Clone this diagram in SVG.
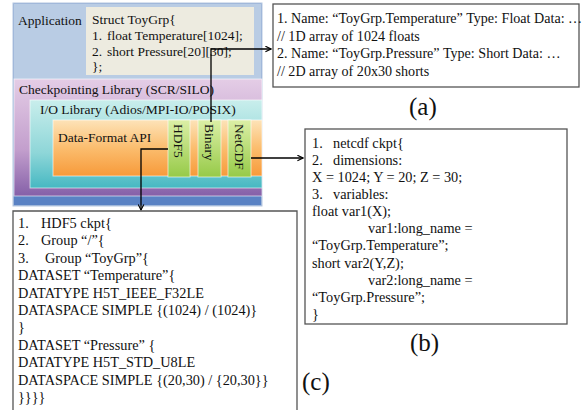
<svg xmlns="http://www.w3.org/2000/svg" width="582" height="410" viewBox="0 0 582 410">
  <defs>
    <linearGradient id="gPurple" x1="0" y1="0" x2="0" y2="1">
      <stop offset="0" stop-color="#e4cde6"/>
      <stop offset="0.6" stop-color="#c39fcd"/>
      <stop offset="1" stop-color="#8560a8"/>
    </linearGradient>
    <linearGradient id="gTeal" x1="0" y1="0" x2="0" y2="1">
      <stop offset="0" stop-color="#c9eeec"/>
      <stop offset="0.6" stop-color="#8ed6d8"/>
      <stop offset="1" stop-color="#46b8c2"/>
    </linearGradient>
    <linearGradient id="gOrange" x1="0" y1="0" x2="0" y2="1">
      <stop offset="0" stop-color="#fde3b8"/>
      <stop offset="0.5" stop-color="#fbbd6e"/>
      <stop offset="1" stop-color="#f79a3a"/>
    </linearGradient>
    <linearGradient id="gGreen" x1="0" y1="0" x2="0" y2="1">
      <stop offset="0" stop-color="#dcefa6"/>
      <stop offset="1" stop-color="#96ca48"/>
    </linearGradient>
    <marker id="arrow" viewBox="0 0 10 10" refX="9" refY="5" markerWidth="7" markerHeight="7" orient="auto" markerUnits="userSpaceOnUse">
      <path d="M1,1 L9,5 L1,9" fill="none" stroke="#000" stroke-width="1.6"/>
    </marker>
  </defs>
  <style>
    text { font-family: "Liberation Serif", "Times New Roman", serif; fill: #111; }
    .t13 { font-size: 13.5px; }
    .t14 { font-size: 14.3px; }
    .ta { font-size: 14.1px; }
    .lbl { font-size: 25px; }
    .box { fill: #fff; stroke: #555; stroke-width: 1.3; }
    .conn { fill: none; stroke: #000; stroke-width: 1.3; }
    .edge { stroke: #ffffff; stroke-opacity: 0.6; stroke-width: 1; }
  </style>

  <!-- software stack -->
  <g id="stack">
    <rect x="13" y="3" width="249" height="203" fill="#8eaad4" stroke="#b4c6e0" stroke-width="1"/>
    <rect x="14" y="4" width="247" height="75" fill="#b9cce4"/>
    <rect x="14" y="196" width="247" height="9" fill="#5a82c4"/>
  </g>
  <g id="application">
    <text class="t13" x="18" y="25">Application</text>
    <rect x="86" y="7" width="168" height="68" fill="#edebe0"/>
    <text class="t13" x="92" y="24">Struct ToyGrp{</text>
    <text class="t13" x="92" y="40">1.</text>
    <text class="t13" x="107" y="40">float Temperature[1024];</text>
    <text class="t13" x="92" y="56">2.</text>
    <text class="t13" x="107" y="56">short Pressure[20][30];</text>
    <text class="t13" x="92" y="71">};</text>
  </g>
  <g id="checkpointing">
    <rect x="14" y="79" width="248" height="117" fill="url(#gPurple)" class="edge"/>
    <text class="t13" x="19" y="94">Checkpointing Library (SCR/SILO)</text>
  </g>
  <g id="io-library">
    <rect x="30" y="100" width="232" height="88" fill="url(#gTeal)" class="edge"/>
    <text class="t13" x="40" y="114">I/O Library (Adios/MPI-IO/POSIX)</text>
  </g>
  <g id="data-format">
    <rect x="53" y="120" width="209" height="56" fill="url(#gOrange)" class="edge"/>
    <text class="t13" x="58" y="142">Data-Format API</text>
  </g>
  <g id="hdf5">
    <rect x="168" y="120" width="22" height="57" fill="url(#gGreen)" class="edge"/>
    <text class="t13" transform="translate(174,124) rotate(90)">HDF5</text>
  </g>
  <g id="binary">
    <rect x="198" y="120" width="23" height="57" fill="url(#gGreen)" class="edge"/>
    <text class="t13" transform="translate(205,124) rotate(90)">Binary</text>
  </g>
  <g id="netcdf">
    <rect x="228" y="120" width="23" height="57" fill="url(#gGreen)" class="edge"/>
    <text class="t13" transform="translate(235,124) rotate(90)">NetCDF</text>
  </g>

  <!-- connectors -->
  <g id="connectors">
    <path class="conn" d="M211,122 V49 H271" marker-end="url(#arrow)"/>
    <path class="conn" d="M168,149 H141 V210" marker-end="url(#arrow)"/>
    <path class="conn" d="M251,158 H303" marker-end="url(#arrow)"/>
  </g>

  <!-- (a) generic binary layout -->
  <g id="box-a">
    <rect class="box" x="273" y="4" width="306" height="83"/>
    <text class="ta" x="277" y="23">1. Name: “ToyGrp.Temperature” Type: Float Data: …</text>
    <text class="ta" x="277" y="41">// 1D array of 1024 floats</text>
    <text class="ta" x="277" y="58">2. Name: “ToyGrp.Pressure” Type: Short Data: …</text>
    <text class="ta" x="277" y="76">// 2D array of 20x30 shorts</text>
    <text class="lbl" x="409" y="115">(a)</text>
  </g>

  <!-- (b) NetCDF layout -->
  <g id="box-b">
    <rect class="box" x="305" y="129" width="262" height="195"/>
    <text class="t14" x="312" y="148">1.</text>
    <text class="t14" x="333" y="148">netcdf ckpt{</text>
    <text class="t14" x="312" y="165">2.</text>
    <text class="t14" x="333" y="165">dimensions:</text>
    <text class="t14" x="312" y="182">X = 1024; Y = 20; Z = 30;</text>
    <text class="t14" x="312" y="199">3.</text>
    <text class="t14" x="333" y="199">variables:</text>
    <text class="t14" x="312" y="216">float var1(X);</text>
    <text class="t14" x="368" y="233">var1:long_name =</text>
    <text class="t14" x="312" y="250">“ToyGrp.Temperature”;</text>
    <text class="t14" x="312" y="268">short var2(Y,Z);</text>
    <text class="t14" x="368" y="285">var2:long_name =</text>
    <text class="t14" x="312" y="302">“ToyGrp.Pressure”;</text>
    <text class="t14" x="312" y="319">}</text>
    <text class="lbl" x="410" y="351">(b)</text>
  </g>

  <!-- (c) HDF5 layout -->
  <g id="box-c">
    <path class="box" d="M13,411 V211 H297 V411"/>
    <text class="t14" x="18" y="228">1.</text>
    <text class="t14" x="41" y="228">HDF5 ckpt{</text>
    <text class="t14" x="18" y="245">2.</text>
    <text class="t14" x="41" y="245">Group “/”{</text>
    <text class="t14" x="18" y="263">3.</text>
    <text class="t14" x="45" y="263">Group “ToyGrp”{</text>
    <text class="t14" x="18" y="280">DATASET “Temperature”{</text>
    <text class="t14" x="18" y="298">DATATYPE H5T_IEEE_F32LE</text>
    <text class="t14" x="18" y="315">DATASPACE SIMPLE {(1024) / (1024)}</text>
    <text class="t14" x="18" y="332">}</text>
    <text class="t14" x="18" y="350">DATASET “Pressure” {</text>
    <text class="t14" x="18" y="367">DATATYPE H5T_STD_U8LE</text>
    <text class="t14" x="18" y="385">DATASPACE SIMPLE {(20,30) / {20,30}}</text>
    <text class="t14" x="18" y="402">}}}}</text>
    <text class="lbl" x="302" y="390">(c)</text>
  </g>
</svg>
